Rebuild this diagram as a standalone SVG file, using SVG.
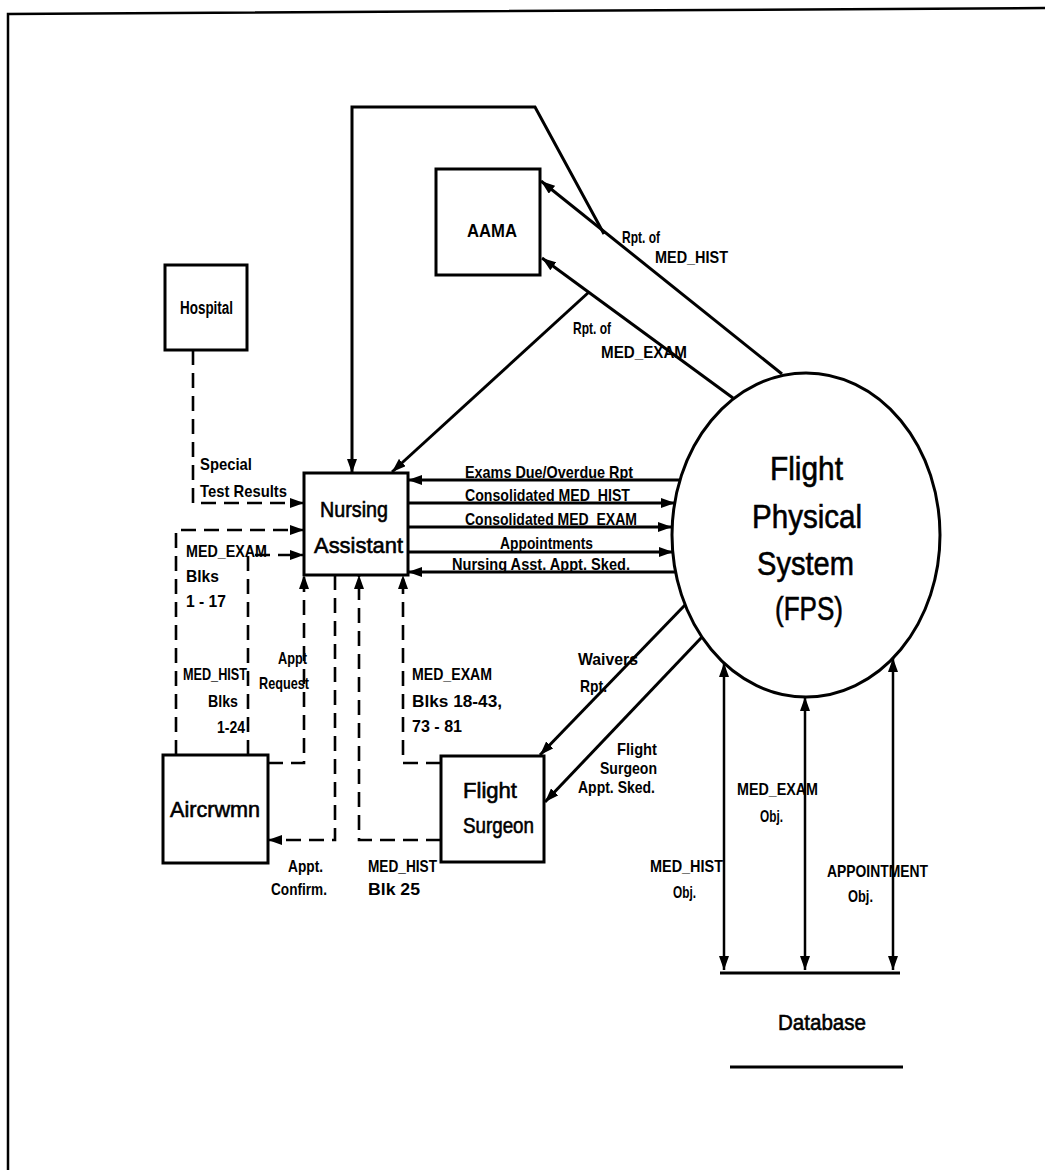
<svg xmlns="http://www.w3.org/2000/svg" width="1045" height="1170" viewBox="0 0 1045 1170">
<style>
.box{fill:#fff;stroke:#000;stroke-width:3}
.ln{fill:none;stroke:#000;stroke-width:3;stroke-linejoin:miter}
.thin{fill:none;stroke:#000;stroke-width:2.5}
.ds{fill:none;stroke:#000;stroke-width:2.6;stroke-dasharray:15 8}
.big{font-family:"Liberation Sans",Arial,sans-serif;font-size:22px;fill:#000;stroke:#000;stroke-width:0.6}
.nb{font-family:"Liberation Sans",Arial,sans-serif;font-size:18px;font-weight:bold;fill:#000}
.lb{font-family:"Liberation Sans",Arial,sans-serif;font-size:17px;font-weight:bold;fill:#000}
.fps{font-family:"Liberation Sans",Arial,sans-serif;font-size:33px;fill:#000;stroke:#000;stroke-width:0.6}
</style>
<defs>
<marker id="ah" viewBox="0 0 14 10" refX="14" refY="5" markerWidth="14" markerHeight="10" markerUnits="userSpaceOnUse" orient="auto-start-reverse">
<path d="M0,0 L14,5 L0,10 z" fill="#000"/>
</marker>
</defs>
<rect width="1045" height="1170" fill="#fff"/>
<g id="frame">
<path class="thin" d="M8,1170 L8,14 L1045,8"/>
</g>
<g id="connectors">
<path class="ln" d="M782,374 L541,181" marker-end="url(#ah)"/>
<path class="ln" d="M604,234 L535,107 L352,107 L352,473" marker-end="url(#ah)"/>
<path class="ln" d="M733,398 L542,258" marker-end="url(#ah)"/>
<path class="ln" d="M589,292 L392,472" marker-end="url(#ah)"/>
<path class="ln" d="M680,480 L408,480" marker-end="url(#ah)"/>
<path class="ln" d="M408,503 L675,503" marker-end="url(#ah)"/>
<path class="ln" d="M408,527 L672,527" marker-end="url(#ah)"/>
<path class="ln" d="M408,552 L673,552" marker-end="url(#ah)"/>
<path class="ln" d="M676,572 L408,572" marker-end="url(#ah)"/>
<path class="ds" d="M193,350 L193,503 L304,503" marker-end="url(#ah)"/>
<path class="ds" d="M176,755 L176,530 L304,530" marker-end="url(#ah)"/>
<path class="ds" d="M248,755 L248,555 L304,555" marker-end="url(#ah)"/>
<path class="ds" d="M268,763 L304,763 L304,575" marker-end="url(#ah)"/>
<path class="ds" d="M335,575 L335,840 L268,840" marker-end="url(#ah)"/>
<path class="ds" d="M441,840 L359,840 L359,575" marker-end="url(#ah)"/>
<path class="ds" d="M441,763 L403,763 L403,575" marker-end="url(#ah)"/>
<path class="ln" d="M685,605 L540,755" marker-end="url(#ah)"/>
<path class="ln" d="M702,637 L545,802" marker-end="url(#ah)"/>
<path class="thin" d="M724,970 L724,663" marker-start="url(#ah)" marker-end="url(#ah)"/>
<path class="thin" d="M805,970 L805,697" marker-start="url(#ah)" marker-end="url(#ah)"/>
<path class="thin" d="M893,970 L893,658" marker-start="url(#ah)" marker-end="url(#ah)"/>
<path class="ln" d="M720,973 L900,973"/>
</g>
<g id="hospital">
<rect class="box" x="165" y="265" width="82" height="85"/>
<text class="nb" x="180" y="314" textLength="53" lengthAdjust="spacingAndGlyphs">Hospital</text>
</g>
<g id="aama">
<rect class="box" x="436" y="169" width="104" height="106"/>
<text class="nb" x="467" y="237" textLength="50" lengthAdjust="spacingAndGlyphs">AAMA</text>
</g>
<g id="nursing">
<rect class="box" x="304" y="473" width="104" height="102"/>
<text class="big" x="320" y="517" textLength="68" lengthAdjust="spacingAndGlyphs">Nursing</text>
<text class="big" x="314" y="553" textLength="89" lengthAdjust="spacingAndGlyphs">Assistant</text>
</g>
<g id="aircrwmn">
<rect class="box" x="163" y="755" width="105" height="108"/>
<text class="big" x="170" y="817" textLength="90" lengthAdjust="spacingAndGlyphs">Aircrwmn</text>
</g>
<g id="surgeon">
<rect class="box" x="441" y="756" width="103" height="106"/>
<text class="big" x="463" y="798" textLength="54" lengthAdjust="spacingAndGlyphs">Flight</text>
<text class="big" x="463" y="833" textLength="71" lengthAdjust="spacingAndGlyphs">Surgeon</text>
</g>
<g id="fps">
<ellipse class="box" cx="806" cy="535" rx="134" ry="162"/>
<text class="fps" x="770" y="480" textLength="73" lengthAdjust="spacingAndGlyphs">Flight</text>
<text class="fps" x="752" y="528" textLength="110" lengthAdjust="spacingAndGlyphs">Physical</text>
<text class="fps" x="757" y="575" textLength="97" lengthAdjust="spacingAndGlyphs">System</text>
<text class="fps" x="775" y="620" textLength="68" lengthAdjust="spacingAndGlyphs">(FPS)</text>
</g>
<g id="database">
<text class="big" x="778" y="1030" textLength="88" lengthAdjust="spacingAndGlyphs">Database</text>
<path class="ln" d="M730,1067 L903,1067"/>
</g>
<g id="labels">
<text class="lb" x="622" y="243" textLength="38" lengthAdjust="spacingAndGlyphs">Rpt. of</text>
<text class="lb" x="655" y="263" textLength="73" lengthAdjust="spacingAndGlyphs">MED_HIST</text>
<text class="lb" x="573" y="334" textLength="38" lengthAdjust="spacingAndGlyphs">Rpt. of</text>
<text class="lb" x="601" y="358" textLength="86" lengthAdjust="spacingAndGlyphs">MED_EXAM</text>
<text class="lb" x="200" y="470" textLength="52" lengthAdjust="spacingAndGlyphs">Special</text>
<text class="lb" x="200" y="497" textLength="87" lengthAdjust="spacingAndGlyphs">Test Results</text>
<text class="lb" x="186" y="557" textLength="81" lengthAdjust="spacingAndGlyphs">MED_EXAM</text>
<text class="lb" x="186" y="582" textLength="33" lengthAdjust="spacingAndGlyphs">Blks</text>
<text class="lb" x="186" y="607" textLength="40" lengthAdjust="spacingAndGlyphs">1 - 17</text>
<text class="lb" x="183" y="680" textLength="64" lengthAdjust="spacingAndGlyphs">MED_HIST</text>
<text class="lb" x="208" y="707" textLength="30" lengthAdjust="spacingAndGlyphs">Blks</text>
<text class="lb" x="217" y="733" textLength="28" lengthAdjust="spacingAndGlyphs">1-24</text>
<text class="lb" x="278" y="664" textLength="29" lengthAdjust="spacingAndGlyphs">Appt</text>
<text class="lb" x="259" y="689" textLength="50" lengthAdjust="spacingAndGlyphs">Request</text>
<text class="lb" x="465" y="478" textLength="168" lengthAdjust="spacingAndGlyphs">Exams Due/Overdue Rpt</text>
<text class="lb" x="465" y="501" textLength="165" lengthAdjust="spacingAndGlyphs">Consolidated MED_HIST</text>
<text class="lb" x="465" y="525" textLength="172" lengthAdjust="spacingAndGlyphs">Consolidated MED_EXAM</text>
<text class="lb" x="500" y="549" textLength="93" lengthAdjust="spacingAndGlyphs">Appointments</text>
<text class="lb" x="452" y="570" textLength="178" lengthAdjust="spacingAndGlyphs">Nursing Asst. Appt. Sked.</text>
<text class="lb" x="578" y="665" textLength="60" lengthAdjust="spacingAndGlyphs">Waivers</text>
<text class="lb" x="580" y="692" textLength="27" lengthAdjust="spacingAndGlyphs">Rpt.</text>
<text class="lb" x="617" y="755" textLength="40" lengthAdjust="spacingAndGlyphs">Flight</text>
<text class="lb" x="600" y="774" textLength="57" lengthAdjust="spacingAndGlyphs">Surgeon</text>
<text class="lb" x="578" y="793" textLength="77" lengthAdjust="spacingAndGlyphs">Appt. Sked.</text>
<text class="lb" x="412" y="680" textLength="80" lengthAdjust="spacingAndGlyphs">MED_EXAM</text>
<text class="lb" x="412" y="707" textLength="90" lengthAdjust="spacingAndGlyphs">Blks  18-43,</text>
<text class="lb" x="412" y="732" textLength="50" lengthAdjust="spacingAndGlyphs">73 - 81</text>
<text class="lb" x="288" y="872" textLength="35" lengthAdjust="spacingAndGlyphs">Appt.</text>
<text class="lb" x="271" y="895" textLength="56" lengthAdjust="spacingAndGlyphs">Confirm.</text>
<text class="lb" x="368" y="872" textLength="69" lengthAdjust="spacingAndGlyphs">MED_HIST</text>
<text class="lb" x="368" y="895" textLength="52" lengthAdjust="spacingAndGlyphs">Blk  25</text>
<text class="lb" x="737" y="795" textLength="81" lengthAdjust="spacingAndGlyphs">MED_EXAM</text>
<text class="lb" x="760" y="822" textLength="23" lengthAdjust="spacingAndGlyphs">Obj.</text>
<text class="lb" x="650" y="872" textLength="73" lengthAdjust="spacingAndGlyphs">MED_HIST</text>
<text class="lb" x="673" y="898" textLength="23" lengthAdjust="spacingAndGlyphs">Obj.</text>
<text class="lb" x="827" y="877" textLength="101" lengthAdjust="spacingAndGlyphs">APPOINTMENT</text>
<text class="lb" x="848" y="902" textLength="25" lengthAdjust="spacingAndGlyphs">Obj.</text>
</g>
</svg>
